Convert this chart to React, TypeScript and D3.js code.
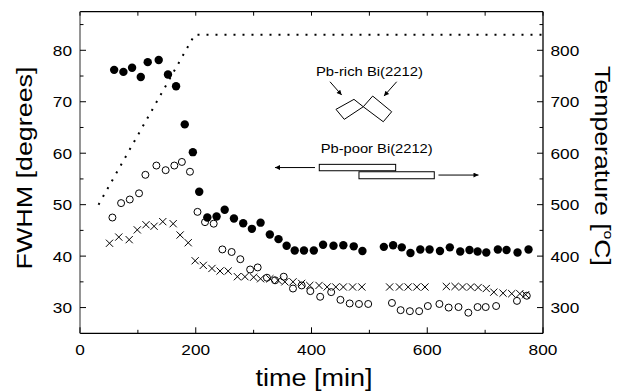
import React from 'react';
import * as d3 from 'd3';

// filled circles
const filledTime = [59, 75, 90, 105, 117, 136, 152, 166, 181, 195, 206, 220, 236, 250, 266, 282, 297, 312, 328, 343, 357, 371, 387, 404, 420, 438, 455, 473, 488, 525, 541, 556, 571, 588, 604, 622, 639, 657, 673, 687, 702, 722, 737, 756, 775];
const filledFwhm = [76.2, 75.8, 76.6, 74.8, 77.7, 78.1, 75.3, 73.0, 65.6, 60.2, 52.5, 47.5, 47.7, 49.0, 47.3, 46.4, 45.3, 46.5, 44.2, 43.3, 42.0, 41.1, 41.1, 41.1, 42.2, 42.0, 42.1, 41.9, 41.0, 41.8, 42.1, 41.7, 40.6, 41.3, 41.3, 41.0, 41.7, 40.9, 41.2, 40.9, 40.7, 41.3, 41.2, 40.7, 41.3];

// open circles
const openTime = [56, 71, 86, 102, 113, 132, 148, 163, 176, 190, 203, 216, 231, 246, 262, 277, 294, 307, 323, 337, 352, 368, 383, 398, 415, 434, 450, 466, 482, 498, 539, 554, 570, 586, 601, 621, 637, 654, 671, 687, 701, 719, 755, 772];
const openFwhm = [47.5, 50.3, 51.0, 52.2, 55.8, 57.6, 56.7, 57.6, 58.3, 56.4, 48.6, 46.6, 46.3, 41.3, 40.8, 39.4, 37.4, 37.8, 35.8, 35.3, 36.0, 33.7, 34.3, 33.2, 32.1, 33.0, 31.5, 30.8, 30.7, 30.7, 30.9, 29.5, 29.3, 29.3, 30.3, 30.7, 30.0, 30.1, 29.0, 30.1, 30.1, 30.3, 31.3, 32.3];

// crosses
const crossTime = [51, 67, 85, 99, 114, 128, 143, 161, 173, 187, 199, 213, 228, 242, 256, 272, 285, 300, 312, 328, 342, 354, 368, 383, 397, 413, 427, 442, 455, 471, 487, 535, 552, 567, 582, 596, 633, 648, 661, 675, 688, 702, 715, 731, 746, 760, 770];
const crossFwhm = [42.5, 43.7, 43.2, 45.1, 46.1, 45.8, 46.7, 46.3, 44.1, 42.6, 39.1, 38.2, 37.6, 37.1, 37.1, 36.0, 36.0, 35.9, 35.6, 35.6, 35.3, 35.0, 35.0, 34.7, 34.3, 34.3, 34.0, 34.0, 34.0, 34.0, 34.0, 34.0, 34.0, 34.0, 34.0, 34.0, 34.1, 34.1, 34.0, 34.0, 33.9, 33.7, 33.0, 32.8, 32.7, 32.7, 32.5];

// temperature program
const tempTime = [32, 198, 800];
const tempValue = [500, 830, 830];

const xTicks = [0, 200, 400, 600, 800];
const leftTicks = [30, 40, 50, 60, 70, 80];
const rightTicks = [300, 400, 500, 600, 700, 800];

const font = '"Liberation Sans", Arial, sans-serif';

export default function App() {
  const width = 621;
  const height = 392;
  const left = 80, right = 543, top = 11.7, bottom = 333.3;

  const x = d3.scaleLinear().domain([0, 800]).range([left, right]);
  const yL = d3.scaleLinear().domain([25, 87.5]).range([bottom, top]);
  const yR = d3.scaleLinear().domain([250, 875]).range([bottom, top]);

  const tempLine = d3
    .line<number>()
    .x((t) => x(t))
    .y((_t, i) => yR(tempValue[i]))(tempTime) as string;

  // annotation anchor (in data units)
  const ax = x(500);
  const ay = yL(70);

  const lblLen = (s: string) => s.length * 9.6;

  return (
    <svg width={width} height={height} style={{ position: 'absolute', left: 0, top: 0, background: '#fff' }} fontFamily={font}>
      <defs>
        <marker id="ah" viewBox="0 0 10 10" refX="10" refY="5" markerWidth="7" markerHeight="5" orient="auto" markerUnits="userSpaceOnUse">
          <path d="M0,0L10,5L0,10z" fill="#000" />
        </marker>
      </defs>

      {/* frame */}
      <line x1={left} x2={right} y1={top} y2={top} stroke="#000" strokeWidth={1.3} />
      <line x1={left} x2={right} y1={bottom} y2={bottom} stroke="#000" strokeWidth={1.3} />
      <line x1={right} x2={right} y1={top} y2={bottom} stroke="#000" strokeWidth={1.3} />
      <line x1={left} x2={left} y1={top} y2={bottom} stroke="#8a8a8a" strokeWidth={1.8} />

      {/* x ticks bottom and top */}
      {d3.range(0, 801, 100).map((t) => {
        const len = t % 200 === 0 ? 6 : 3.5;
        return (
          <g key={'xt' + t}>
            <line x1={x(t)} x2={x(t)} y1={bottom} y2={bottom - len} stroke="#000" strokeWidth={1} />
            <line x1={x(t)} x2={x(t)} y1={top} y2={top + 4} stroke="#000" strokeWidth={1} />
          </g>
        );
      })}
      {xTicks.map((t) => (
        <text key={'xl' + t} x={x(t)} y={355} fontSize={15} textAnchor="middle" textLength={lblLen(String(t))} lengthAdjust="spacingAndGlyphs">
          {t}
        </text>
      ))}

      {/* left ticks */}
      {d3.range(30, 87, 5).map((v) => (
        <line key={'lt' + v} x1={left} x2={left + (v % 10 === 0 ? 6 : 3.5)} y1={yL(v)} y2={yL(v)} stroke="#000" strokeWidth={1} />
      ))}
      {leftTicks.map((v) => (
        <text key={'ll' + v} x={72} y={yL(v) + 5.5} fontSize={15} textAnchor="end" textLength={lblLen(String(v))} lengthAdjust="spacingAndGlyphs">
          {v}
        </text>
      ))}

      {/* right ticks */}
      {d3.range(300, 870, 50).map((v) => (
        <line key={'rt' + v} x1={right} x2={right - (v % 100 === 0 ? 6 : 3.5)} y1={yR(v)} y2={yR(v)} stroke="#000" strokeWidth={1} />
      ))}
      {rightTicks.map((v) => (
        <text key={'rl' + v} x={550.5} y={yR(v) + 5.5} fontSize={15} textAnchor="start" textLength={lblLen(String(v))} lengthAdjust="spacingAndGlyphs">
          {v}
        </text>
      ))}

      {/* axis titles */}
      <text x={314} y={386} fontSize={23} textAnchor="middle" textLength={117} lengthAdjust="spacingAndGlyphs">
        time [min]
      </text>
      <text transform={`translate(32,168) rotate(-90)`} fontSize={22} textAnchor="middle" textLength={203} lengthAdjust="spacingAndGlyphs">
        FWHM [degrees]
      </text>
      <text transform={`translate(595,166) rotate(90)`} fontSize={22} textAnchor="middle" textLength={200} lengthAdjust="spacingAndGlyphs">
        Temperature [<tspan fontSize={13} dy={-9}>o</tspan><tspan dy={9}>C]</tspan>
      </text>

      {/* temperature */}
      <path d={tempLine} fill="none" stroke="#000" strokeWidth={2} strokeDasharray="2,7" />

      {/* crosses */}
      {crossTime.map((t, i) => {
        const cx = x(t), cy = yL(crossFwhm[i]), s = 3.6;
        return (
          <path key={'c' + i} d={`M${cx - s},${cy - s}L${cx + s},${cy + s}M${cx - s},${cy + s}L${cx + s},${cy - s}`} stroke="#000" strokeWidth={1} fill="none" />
        );
      })}

      {/* open circles */}
      {openTime.map((t, i) => (
        <circle key={'o' + i} cx={x(t)} cy={yL(openFwhm[i])} r={3.5} fill="none" stroke="#000" strokeWidth={1} />
      ))}

      {/* filled circles */}
      {filledTime.map((t, i) => (
        <circle key={'f' + i} cx={x(t)} cy={yL(filledFwhm[i])} r={4.2} fill="#000" />
      ))}

      {/* annotations */}
      <g fontSize={13.5} stroke="none">
        <text x={ax} y={ay - 25.5} textAnchor="middle" textLength={107} lengthAdjust="spacingAndGlyphs">Pb-rich Bi(2212)</text>
        <text x={ax + 7.3} y={ay + 51.3} textAnchor="middle" textLength={112} lengthAdjust="spacingAndGlyphs">Pb-poor Bi(2212)</text>
      </g>
      <g fill="#fff" stroke="#000" strokeWidth={1}>
        <polygon points={[[-33.4, 7.6], [-15.4, -2.4], [-6.1, 5], [-25.1, 17.6]].map(([dx, dy]) => `${ax + dx},${ay + dy}`).join(' ')} />
        <polygon points={[[-6.1, 5], [3.3, -5.7], [22.3, 10], [13.9, 20]].map(([dx, dy]) => `${ax + dx},${ay + dy}`).join(' ')} />
        <rect x={ax - 50.1} y={ay + 62.6} width={76.4} height={6.4} />
        <rect x={ax - 10.4} y={ay + 70} width={75.3} height={7} />
      </g>
      <g stroke="#000" strokeWidth={1}>
        <line x1={ax - 39.4} y1={ay - 20} x2={ax - 27.7} y2={ay - 6.7} markerEnd="url(#ah)" />
        <line x1={ax + 27.3} y1={ay - 20} x2={ax + 14.6} y2={ay - 5.7} markerEnd="url(#ah)" />
        <line x1={ax - 54.4} y1={ay + 65.8} x2={ax - 94.4} y2={ay + 65.8} markerEnd="url(#ah)" />
        <line x1={ax + 69.1} y1={ay + 73.3} x2={ax + 109.1} y2={ay + 73.3} markerEnd="url(#ah)" />
      </g>
    </svg>
  );
}
